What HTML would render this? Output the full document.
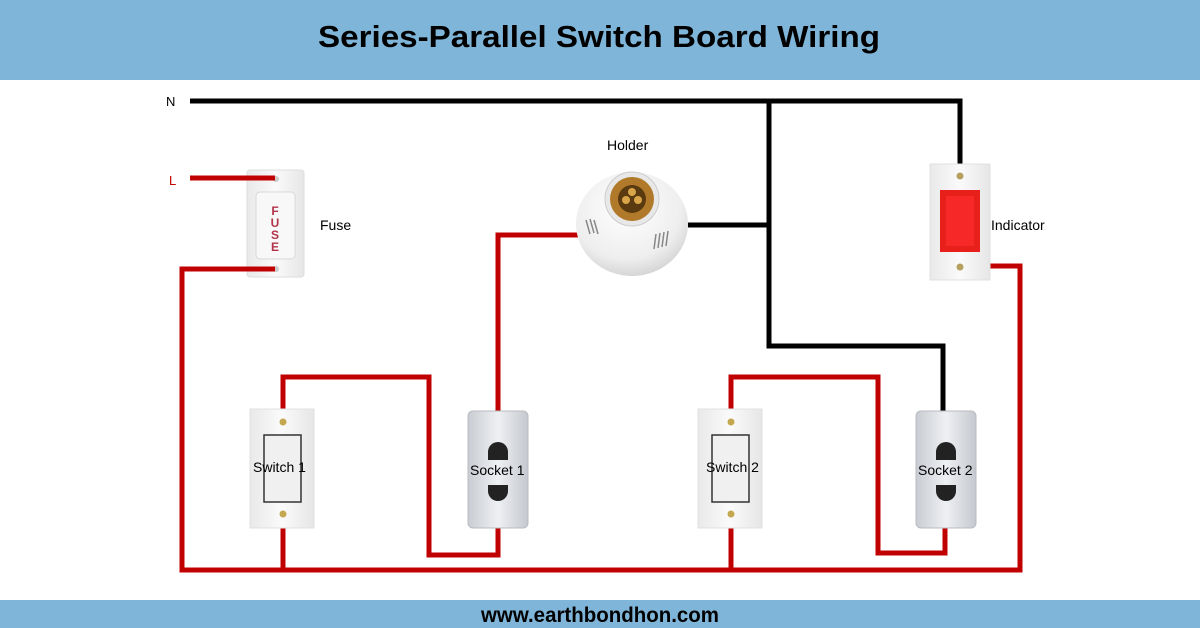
<!DOCTYPE html>
<html><head><meta charset="utf-8"><style>
html,body{margin:0;padding:0;background:#fff;}
svg{display:block}
text{font-family:"Liberation Sans",sans-serif}
</style></head><body>
<svg width="1200" height="628" viewBox="0 0 1200 628" xmlns="http://www.w3.org/2000/svg">
<defs>
<linearGradient id="plate" x1="0" x2="1"><stop offset="0" stop-color="#e9e9e9"/><stop offset=".5" stop-color="#fafafa"/><stop offset="1" stop-color="#e6e6e6"/></linearGradient>
<linearGradient id="sock" x1="0" x2="1"><stop offset="0" stop-color="#c9ccd2"/><stop offset=".5" stop-color="#eef0f3"/><stop offset="1" stop-color="#c5c8ce"/></linearGradient>
<radialGradient id="dome" cx=".45" cy=".35" r=".7"><stop offset="0" stop-color="#ffffff"/><stop offset=".7" stop-color="#eeeeee"/><stop offset="1" stop-color="#cfcfcf"/></radialGradient>
</defs>
<rect x="0" y="0" width="1200" height="80" fill="#7fb5d8"/>
<text x="599" y="47" text-anchor="middle" font-size="31" font-weight="bold" textLength="562" lengthAdjust="spacingAndGlyphs">Series-Parallel Switch Board Wiring</text>
<rect x="0" y="600" width="1200" height="28" fill="#7fb5d8"/>
<text x="600" y="622" text-anchor="middle" font-size="21" font-weight="bold" textLength="238" lengthAdjust="spacingAndGlyphs">www.earthbondhon.com</text>

<g stroke="#000" stroke-width="5" fill="none">
<polyline points="190,101 960,101 960,166"/>
<polyline points="769,101 769,346 943,346 943,412"/>
<line x1="688" y1="225" x2="769" y2="225"/>
</g>
<text x="166" y="106" font-size="13">N</text>
<text x="169" y="185" font-size="13" fill="#c00000">L</text>

<rect x="247" y="170" width="57" height="107" rx="3" fill="url(#plate)" stroke="#ddd"/>
<rect x="256" y="192" width="39" height="67" rx="4" fill="#f8f8f8" stroke="#d8d8d8"/>
<g font-size="12" fill="#b3334a" text-anchor="middle" font-weight="bold">
<text x="275" y="215">F</text><text x="275" y="227">U</text><text x="275" y="239">S</text><text x="275" y="251">E</text>
</g>
<circle cx="276" cy="179" r="3" fill="#ccc"/>
<circle cx="276" cy="269" r="3" fill="#ccc"/>
<text x="320" y="230" font-size="14">Fuse</text>

<g stroke="#c00000" stroke-width="5" fill="none">
<line x1="190" y1="178" x2="275" y2="178"/>
<polyline points="275,269 182,269 182,570 1020,570 1020,266 960,266"/>
<polyline points="283,420 283,377 429,377 429,555 498,555 498,526"/>
<line x1="283" y1="517" x2="283" y2="570"/>
<polyline points="498,412 498,235 580,235"/>
<polyline points="731,420 731,377 878,377 878,553 945,553 945,526"/>
<line x1="731" y1="517" x2="731" y2="570"/>
</g>

<ellipse cx="632" cy="224" rx="56" ry="52" fill="url(#dome)"/>
<circle cx="632" cy="199" r="27" fill="#e8e8e8" stroke="#ccc"/>
<circle cx="632" cy="199" r="22" fill="#b07a2a"/>
<circle cx="632" cy="199" r="14" fill="#5a3a10"/>
<circle cx="626" cy="200" r="4" fill="#d9a548"/><circle cx="638" cy="200" r="4" fill="#d9a548"/><circle cx="632" cy="192" r="4" fill="#d9a548"/>
<g stroke="#888" stroke-width="1.5"><line x1="586" y1="220" x2="590" y2="234"/><line x1="590" y1="219" x2="594" y2="233"/><line x1="594" y1="220" x2="598" y2="234"/><line x1="656" y1="234" x2="654" y2="249"/><line x1="660" y1="233" x2="658" y2="248"/><line x1="664" y1="232" x2="662" y2="247"/><line x1="668" y1="231" x2="666" y2="246"/></g>
<text x="607" y="150" font-size="14">Holder</text>

<rect x="930" y="164" width="60" height="116" fill="url(#plate)" stroke="#e0e0e0"/>
<rect x="940" y="190" width="40" height="62" fill="#e8201c"/>
<rect x="946" y="196" width="28" height="50" fill="#ff3030" opacity=".6"/>
<circle cx="960" cy="176" r="3.5" fill="#b5a060"/>
<circle cx="960" cy="267" r="3.5" fill="#b5a060"/>
<text x="991" y="230" font-size="14">Indicator</text>

<g>
<rect x="250" y="409" width="64" height="119" fill="url(#plate)" stroke="#e0e0e0"/>
<rect x="264" y="435" width="37" height="67" fill="#f0f0f0" stroke="#333" stroke-width="1.5"/>
<circle cx="283" cy="422" r="3.5" fill="#c4a850"/><circle cx="283" cy="514" r="3.5" fill="#c4a850"/>
<text x="253" y="472" font-size="14">Switch 1</text>
</g>
<g>
<rect x="698" y="409" width="64" height="119" fill="url(#plate)" stroke="#e0e0e0"/>
<rect x="712" y="435" width="37" height="67" fill="#f0f0f0" stroke="#333" stroke-width="1.5"/>
<circle cx="731" cy="422" r="3.5" fill="#c4a850"/><circle cx="731" cy="514" r="3.5" fill="#c4a850"/>
<text x="706" y="472" font-size="14">Switch 2</text>
</g>
<g>
<rect x="468" y="411" width="60" height="117" rx="5" fill="url(#sock)" stroke="#b8bbc0"/>
<path d="M488,460 v-8 a10,10 0 0 1 20,0 v8 z" fill="#222"/>
<path d="M488,485 h20 v6 a10,10 0 0 1 -20,0 z" fill="#222"/>
<text x="470" y="475" font-size="14">Socket 1</text>
</g>
<g>
<rect x="916" y="411" width="60" height="117" rx="5" fill="url(#sock)" stroke="#b8bbc0"/>
<path d="M936,460 v-8 a10,10 0 0 1 20,0 v8 z" fill="#222"/>
<path d="M936,485 h20 v6 a10,10 0 0 1 -20,0 z" fill="#222"/>
<text x="918" y="475" font-size="14">Socket 2</text>
</g>
</svg>
</body></html>
